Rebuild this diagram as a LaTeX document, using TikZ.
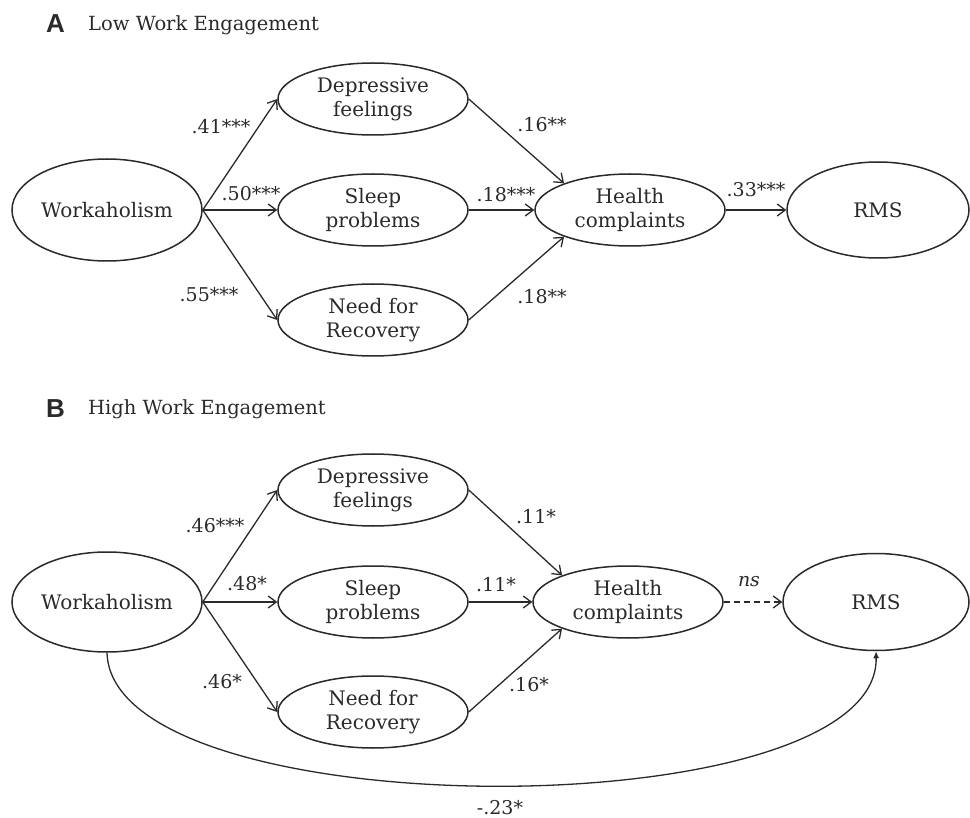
\documentclass[tikz,border=0pt]{standalone}
\usepackage{fontspec}
\setmainfont{DejaVu Serif}
\newfontfamily\hdrfont{Liberation Sans}
\usetikzlibrary{shapes.geometric,arrows.meta}
\definecolor{ink}{HTML}{2A2A2A}
\begin{document}
\begin{tikzpicture}[x=1pt,y=-1pt,
  lat/.style={ellipse,draw=ink,line width=1.5pt,inner sep=0pt,align=center,
    font=\fontsize{20}{24}\selectfont,text=ink},
  midlat/.style={lat,minimum width=190pt,minimum height=72pt},
  arr/.style={draw=ink,line width=1.3pt,-{Straight Barb[length=8pt,width=12pt]}},
  darr/.style={arr,dash pattern=on 6pt off 4pt},
  lbl/.style={font=\fontsize{19}{22}\selectfont,text=ink,inner sep=0pt},
  hdrletter/.style={font=\hdrfont\bfseries\fontsize{26}{28}\selectfont,text=ink,inner sep=0pt,anchor=base west},
  hdrtext/.style={font=\fontsize{19.5}{22}\selectfont,text=ink,inner sep=0pt,anchor=base west}]
\useasboundingbox (0,0) rectangle (970,818);
% ---------- Panel A ----------
\node[hdrletter] (hA) at (46,33) {A};
\node[hdrtext] (tA) at (88,31) {Low Work Engagement};
\node[lat,minimum width=190pt,minimum height=102pt] (WA) at (107,210) {Workaholism};
\node[midlat] (DA) at (373,99) {Depressive\\feelings};
\node[midlat] (SA) at (373,210) {Sleep\\problems};
\node[midlat] (NA) at (373,320) {Need for\\Recovery};
\node[midlat] (HA) at (630,210) {Health\\complaints};
\node[lat,minimum width=182pt,minimum height=96pt] (RA) at (878,210) {RMS};
\draw[arr] (WA.east) -- (DA.west);
\draw[arr] (WA.east) -- (SA.west);
\draw[arr] (WA.east) -- (NA.west);
\draw[arr] (DA.east) -- (HA.158);
\draw[arr] (SA.east) -- (HA.west);
\draw[arr] (NA.east) -- (HA.202);
\draw[arr] (HA.east) -- (RA.west);
\node[lbl] (a1) at (221,127) {.41***};
\node[lbl] (a2) at (251,194) {.50***};
\node[lbl] (a3) at (209,295) {.55***};
\node[lbl] (a4) at (542,125) {.16**};
\node[lbl] (a5) at (506,195) {.18***};
\node[lbl] (a6) at (542,297) {.18**};
\node[lbl] (a7) at (756,190) {.33***};
% ---------- Panel B ----------
\node[hdrletter] (hB) at (46,418) {B};
\node[hdrtext] (tB) at (88,415) {High Work Engagement};
\node[lat,minimum width=190pt,minimum height=100pt] (WB) at (107,602) {Workaholism};
\node[midlat] (DB) at (373,490) {Depressive\\feelings};
\node[midlat] (SB) at (373,602) {Sleep\\problems};
\node[midlat] (NB) at (373,712) {Need for\\Recovery};
\node[midlat] (HB) at (628,602) {Health\\complaints};
\node[lat,minimum width=186pt,minimum height=97pt] (RB) at (876,602) {RMS};
\draw[arr] (WB.east) -- (DB.west);
\draw[arr] (WB.east) -- (SB.west);
\draw[arr] (WB.east) -- (NB.west);
\draw[arr] (DB.east) -- (HB.158);
\draw[arr] (SB.east) -- (HB.west);
\draw[arr] (NB.east) -- (HB.202);
\draw[darr] (HB.east) -- (RB.west);
\draw[draw=ink,line width=1.3pt,-{Latex[length=7pt,width=6pt]}] (WB.south) .. controls (112,830) and (880,830) .. (RB.south);
\node[lbl] (b1) at (215,526) {.46***};
\node[lbl] (b2) at (247,584) {.48*};
\node[lbl] (b3) at (222,682) {.46*};
\node[lbl] (b4) at (536,517) {.11*};
\node[lbl] (b5) at (496,585) {.11*};
\node[lbl] (b6) at (529,685) {.16*};
\node[lbl] (b7) at (749,582) {\itshape ns};
\node[lbl] (b8) at (500,808) {-.23*};
\end{tikzpicture}
\end{document}
